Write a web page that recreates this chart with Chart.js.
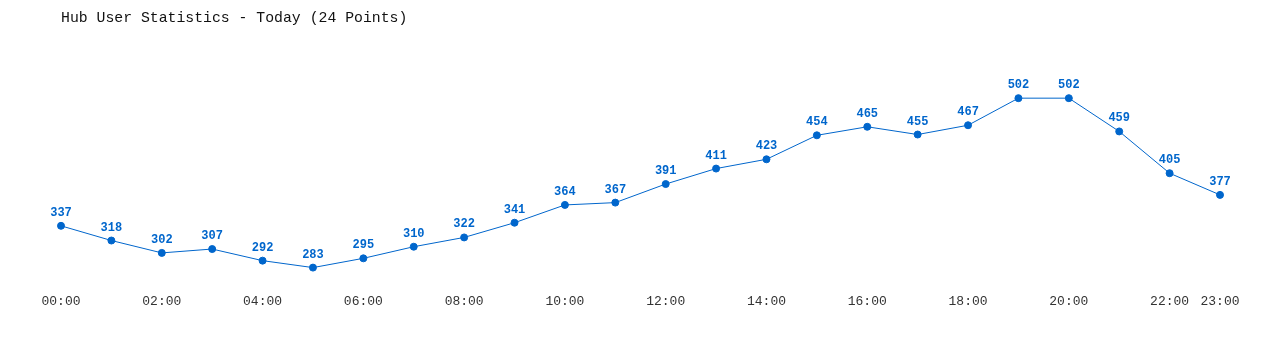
<!DOCTYPE html>
<html>
<head>
<meta charset="utf-8">
<script src="https://cdn.jsdelivr.net/npm/chart.js@4"></script>
<style>
  html, body { margin: 0; padding: 0; background: #fff; }
  #wrap { width: 1280px; height: 350px; position: relative; }
</style>
</head>
<body>
<div id="wrap"><canvas id="chart"></canvas></div>
<script>
const title = "Hub User Statistics - Today (24 Points)";
const hours = ["00:00","01:00","02:00","03:00","04:00","05:00","06:00","07:00","08:00","09:00","10:00","11:00",
               "12:00","13:00","14:00","15:00","16:00","17:00","18:00","19:00","20:00","21:00","22:00","23:00"];
const users = [337, 318, 302, 307, 292, 283, 295, 310, 322, 341, 364, 367,
               391, 411, 423, 454, 465, 455, 467, 502, 502, 459, 405, 377];
const blue = "#0066cc";
const mono = "'Liberation Mono', 'DejaVu Sans Mono', monospace";

// values above each point
const valueLabels = {
    id: "valueLabels",
    afterDatasetsDraw(chart) {
        const ctx = chart.ctx;
        const meta = chart.getDatasetMeta(0);
        ctx.save();
        ctx.font = "bold 12px " + mono;
        ctx.fillStyle = blue;
        ctx.textAlign = "center";
        ctx.textBaseline = "bottom";
        meta.data.forEach((pt, i) => ctx.fillText(users[i], pt.x, pt.y - 7));
        ctx.restore();
    }
};

new Chart(document.getElementById("chart"), {
    type: "line",
    data: {
        labels: hours,
        datasets: [{
            data: users,
            borderColor: blue,
            backgroundColor: blue,
            borderWidth: 1,
            pointRadius: 3.5,
            pointHoverRadius: 3.5,
            tension: 0
        }]
    },
    options: {
        responsive: true,
        maintainAspectRatio: false,
        animation: false,
        layout: { padding: { left: 61, right: 60, top: 0, bottom: 33 } },
        plugins: {
            legend: { display: false },
            tooltip: { enabled: false },
            title: {
                display: true, text: title, align: "start", color: "#111",
                font: { family: mono, size: 14.8, weight: "normal", lineHeight: 1.2 },
                padding: { top: 9, bottom: 42 }
            }
        },
        scales: {
            x: {
                offset: false,
                grid: { display: false, drawTicks: false },
                border: { display: false },
                ticks: {
                    autoSkip: false, maxRotation: 0, padding: 8, color: "#333",
                    font: { family: mono, size: 13 },
                    callback: (v, i) => (i % 2 === 0 || i === hours.length - 1) ? hours[i] : ""
                }
            },
            y: { display: false, min: 260, max: 540 }
        }
    },
    plugins: [valueLabels]
});
</script>
</body>
</html>
